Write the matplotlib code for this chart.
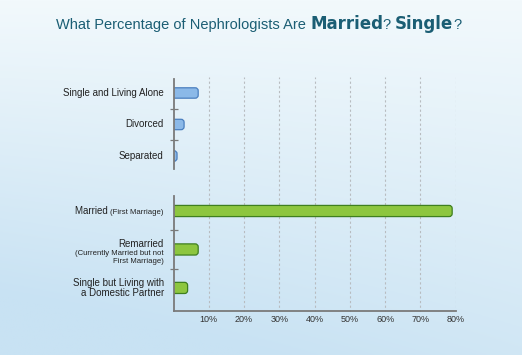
import numpy as np
import matplotlib.pyplot as plt
from matplotlib import transforms
from matplotlib.patches import FancyBboxPatch

# Data (percent of respondents)
singleCategories = ["Single and Living Alone", "Divorced", "Separated"]
singleValues = [7, 3, 1]

marriedCategories = ["Married", "Remarried", "Single but Living with\na Domestic Partner"]
marriedSubLabels = ["(First Marriage)", "(Currently Married but not\nFirst Marriage)", ""]
marriedValues = [79, 7, 4]

xTicks = [10, 20, 30, 40, 50, 60, 70, 80]
xTickLabels = ["10%", "20%", "30%", "40%", "50%", "60%", "70%", "80%"]

titleParts = ["What Percentage of Nephrologists Are ", "Married", "? ", "Single", "?"]
titleBold = [False, True, False, True, False]

titleColor = "#1b5e74"
labelColor = "#222222"
axisColor = "#7a7a7a"
blueFill = "#8bb9e8"
blueEdge = "#4a7fbf"
greenFill = "#8dc63f"
greenEdge = "#3f7f1f"

W, H = 522, 355


def DrawBackground(fig):
    # light blue gradient behind everything
    bg = fig.add_axes([0, 0, 1, 1], zorder=-10)
    yy, xx = np.mgrid[0:1:200j, 0:1:300j]
    top = np.array([242, 249, 252]) / 255
    bottom = np.array([200, 226, 243]) / 255
    t = np.clip(yy * 0.8 + (1 - xx) * yy * 0.4, 0, 1)[..., None]
    img = top * (1 - t) + bottom * t
    bg.imshow(img, aspect="auto", extent=[0, 1, 1, 0])
    bg.axis("off")


def SetupPanel(ax, ylim):
    ax.set_xlim(0, 80)
    ax.set_ylim(*ylim)
    ax.patch.set_alpha(0)
    for side in ["top", "right", "bottom"]:
        ax.spines[side].set_visible(False)
    ax.spines["left"].set_color(axisColor)
    ax.spines["left"].set_linewidth(1.3)
    ax.spines["left"].set_zorder(5)
    ax.set_yticks([0, 1, 2])
    ax.set_yticklabels([])
    ax.tick_params(axis="y", which="major", length=0)
    ax.set_yticks([0.5, 1.5], minor=True)
    ax.tick_params(axis="y", which="minor", direction="inout", length=6, width=0.9, color=axisColor)
    ax.set_xticks([])


def RoundedBars(ax, values, height, fill, edge, pxPerY):
    # barh geometry, redrawn with a rounded right end; left end hidden behind the axis
    bars = ax.barh(range(len(values)), values, height=height)
    xPerPx = 80 / 282.2
    aspect = (1 / pxPerY) / xPerPx
    r = 3 * xPerPx
    for b in bars:
        b.set_visible(False)
        x, y = b.get_x(), b.get_y()
        p = FancyBboxPatch((x - 2 * r, y), b.get_width() + 2 * r, b.get_height(),
                           boxstyle="round,pad=0,rounding_size=%f" % r, mutation_aspect=aspect,
                           facecolor=fill, edgecolor=edge, linewidth=0.9, zorder=3)
        ax.add_patch(p)
        p.set_clip_path(ax.patch)


def main():
    plt.rcParams['font.family'] = ['Liberation Sans', 'DejaVu Sans']
    fig = plt.figure(figsize=(W / 100, H / 100), dpi=100)
    DrawBackground(fig)
    renderer = fig.canvas.get_renderer()

    x0 = 173.5 / W
    w = 282.2 / W

    # gridlines shared by both panels
    grid = fig.add_axes([x0, 43 / H, w, 235 / H], zorder=0)
    grid.set_xlim(0, 80)
    grid.set_xticks(xTicks)
    grid.set_yticks([])
    grid.grid(axis="x", color="#b8bcc0", linestyle=(0, (2, 2.2)), linewidth=0.8)
    grid.tick_params(axis="x", length=0, labelbottom=False)
    grid.patch.set_alpha(0)
    for s in grid.spines.values():
        s.set_visible(False)

    # top panel: single
    axTop = fig.add_axes([x0, (H - 169) / H, w, 90 / H], zorder=2)
    SetupPanel(axTop, (2.413, -0.444))
    RoundedBars(axTop, singleValues, 0.33, blueFill, blueEdge, 31.5)
    for i, lab in enumerate(singleCategories):
        axTop.annotate(lab, xy=(0, i), xycoords=transforms.blended_transform_factory(axTop.transAxes, axTop.transData),
                       xytext=(-7, 0), textcoords="offset points", ha="right", va="center",
                       fontsize=7, color=labelColor)

    # bottom panel: married
    axBot = fig.add_axes([x0, 44 / H, w, 115 / H], zorder=2)
    SetupPanel(axBot, (2.6, -0.39))
    axBot.spines["bottom"].set_visible(True)
    axBot.spines["bottom"].set_color(axisColor)
    axBot.spines["bottom"].set_linewidth(1.3)
    RoundedBars(axBot, marriedValues, 0.29, greenFill, greenEdge, 38.5)
    axBot.set_xticks(xTicks)
    axBot.set_xticklabels(xTickLabels, fontsize=6.5, color="#333333")
    axBot.tick_params(axis="x", length=0, pad=3)

    trans = transforms.blended_transform_factory(axBot.transAxes, axBot.transData)
    # Married (First Marriage)
    sub = axBot.annotate(marriedSubLabels[0], xy=(0, 0), xycoords=trans, xytext=(-7, -2.4),
                         textcoords="offset points", ha="right", va="baseline", fontsize=5.6, color=labelColor)
    subWidthPt = sub.get_window_extent(renderer).width * 72 / fig.dpi
    axBot.annotate(marriedCategories[0] + " ", xy=(0, 0), xycoords=trans, xytext=(-7 - subWidthPt, -2.4),
                   textcoords="offset points", ha="right", va="baseline", fontsize=7, color=labelColor)
    # Remarried
    axBot.annotate(marriedCategories[1], xy=(0, 1), xycoords=trans, xytext=(-7, 0),
                   textcoords="offset points", ha="right", va="bottom", fontsize=7, color=labelColor)
    axBot.annotate(marriedSubLabels[1], xy=(0, 1), xycoords=trans, xytext=(-7, -0.5),
                   textcoords="offset points", ha="right", va="top", fontsize=5.6, color=labelColor,
                   multialignment="right", linespacing=1.15)
    # Single but living with a partner
    axBot.annotate(marriedCategories[2], xy=(0, 2), xycoords=trans, xytext=(-7, 0),
                   textcoords="offset points", ha="right", va="center", fontsize=7, color=labelColor,
                   multialignment="right", linespacing=1.05)

    # title with bold words, all on one baseline
    xPx = 56
    yBase = 1 - 29 / H
    for part, bold in zip(titleParts, titleBold):
        if bold:
            t = fig.text(xPx / W, yBase, part, fontsize=12, fontweight="bold", family="DejaVu Sans",
                         color=titleColor, va="baseline")
        else:
            t = fig.text(xPx / W, yBase, part, fontsize=10.5, color=titleColor, va="baseline")
        xPx += t.get_window_extent(renderer).width

    fig.savefig("out.png", dpi=100)


if __name__ == "__main__":
    main()
